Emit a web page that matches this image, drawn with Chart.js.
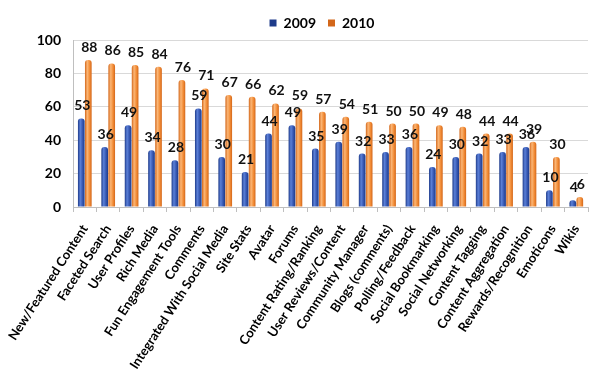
<!DOCTYPE html>
<html>
<head>
<meta charset="utf-8">
<script src="https://cdn.jsdelivr.net/npm/chart.js@4"></script>
<style>
html,body{margin:0;padding:0;background:#fff;}
#wrap{width:605px;height:381px;}
</style>
</head>
<body>
<div id="wrap"><canvas id="c" width="605" height="381"></canvas></div>
<script>
const categories = [
  "New/Featured Content","Faceted Search","User Profiles","Rich Media","Fun Engagement Tools",
  "Comments","Integrated With Social Media","Site Stats","Avatar","Forums",
  "Content Rating/Ranking","User Reviews/Content","Community Manager","Blogs (comments)",
  "Polling/Feedback","Social Bookmarking","Social Networking","Content Tagging",
  "Content Aggregation","Rewards/Recognition","Emoticons","Wikis"
];
const values2009 = [53,36,49,34,28,59,30,21,44,49,35,39,32,33,36,24,30,32,33,36,10,4];
const values2010 = [88,86,85,84,76,71,67,66,62,59,57,54,51,50,50,49,48,44,44,39,30,6];
const seriesNames = ["2009","2010"];
const yTickValues = [0,20,40,60,80,100];

const CAT_PCT = 0.6;
const BAR_PCT = 0.95;
const FONT = "Lato";

function cylinder(dark, light, mid) {
  return function(ctx) {
    if (ctx.type !== 'data') return mid;
    const chart = ctx.chart;
    const xs = chart.scales && chart.scales.x;
    if (!xs || !chart.chartArea || !xs.width) return mid;
    const cat = xs.width / categories.length;
    const slot = cat * CAT_PCT / 2;
    const center = xs.getPixelForValue(ctx.dataIndex) + (ctx.datasetIndex === 0 ? -slot / 2 : slot / 2);
    const w = slot * BAR_PCT;
    const g = chart.ctx.createLinearGradient(center - w / 2, 0, center + w / 2, 0);
    g.addColorStop(0, dark);
    g.addColorStop(0.35, light);
    g.addColorStop(0.7, mid);
    g.addColorStop(1, dark);
    return g;
  };
}

const valueLabels = {
  id: 'valueLabels',
  afterDatasetsDraw(chart) {
    const c = chart.ctx;
    c.save();
    c.font = "bold 14px " + FONT;
    c.fillStyle = "#111";
    c.textAlign = "center";
    c.textBaseline = "alphabetic";
    chart.data.datasets.forEach((ds, di) => {
      const meta = chart.getDatasetMeta(di);
      meta.data.forEach((el, i) => {
        c.fillText(String(ds.data[i]), el.x + 1, el.y - 8);
      });
    });
    c.restore();
  }
};

const legendShift = {
  id: 'legendShift',
  afterLayout(chart) {
    const lg = chart.legend;
    if (lg) { lg.left += 28; lg.right += 28; }
  }
};

new Chart(document.getElementById('c'), {
  type: 'bar',
  data: {
    labels: categories,
    datasets: [
      { label: seriesNames[0], data: values2009,
        backgroundColor: cylinder('#1e3b8a', '#5b80d8', '#3556b0'),
        borderWidth: 0, borderRadius: {topLeft: 3, topRight: 3}, borderSkipped: 'bottom' },
      { label: seriesNames[1], data: values2010,
        backgroundColor: cylinder('#d3671a', '#fbb676', '#f28c36'),
        borderWidth: 0, borderRadius: {topLeft: 3, topRight: 3}, borderSkipped: 'bottom' }
    ]
  },
  options: {
    responsive: false,
    animation: false,
    devicePixelRatio: 1,
    categoryPercentage: CAT_PCT,
    barPercentage: BAR_PCT,
    layout: { padding: { top: 4, right: 17, left: 0, bottom: 0 } },
    plugins: {
      legend: {
        position: 'top',
        align: 'center',
        labels: {
          boxWidth: 7, boxHeight: 7, padding: 12,
          color: '#000',
          font: { family: FONT, size: 14, weight: 'bold' }
        }
      },
      tooltip: { enabled: false }
    },
    scales: {
      x: {
        grid: { display: true, drawOnChartArea: false, drawTicks: true, tickLength: 5, color: '#BFBFBF', offset: true },
        border: { display: true, color: '#BFBFBF' },
        ticks: {
          autoSkip: false, minRotation: 57, maxRotation: 57, padding: 10,
          color: '#000',
          font: { family: FONT, size: 13, weight: 'bold' }
        },
        afterFit(scale) { scale.height = 174; }
      },
      y: {
        min: 0, max: 100,
        afterBuildTicks(scale) { scale.ticks = yTickValues.map(v => ({ value: v })); },
        grid: { color: '#D9D9D9', drawTicks: false },
        border: { display: true, color: '#BFBFBF' },
        ticks: {
          padding: 12, color: '#000',
          font: { family: FONT, size: 14, weight: 'bold' }
        },
        afterFit(scale) { scale.width = 73; }
      }
    }
  },
  plugins: [valueLabels, legendShift]
});
</script>
</body>
</html>
